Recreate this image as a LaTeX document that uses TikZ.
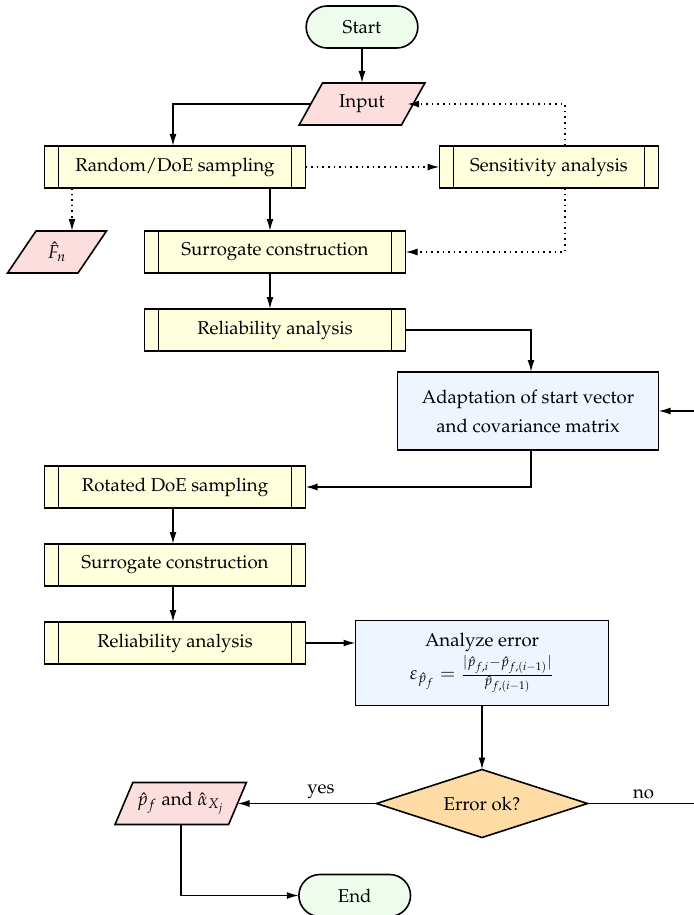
\documentclass[tikz,border=0pt]{standalone}
\usepackage[T1]{fontenc}
\usepackage{amsmath,amssymb}
\usepackage{mathpazo}
\usepackage{xcolor}
\usetikzlibrary{arrows.meta,positioning,calc,shapes.geometric,shapes.misc}
\definecolor{termfill}{HTML}{EEFCEE}
\definecolor{iofill}{HTML}{FDDEDE}
\definecolor{procfill}{HTML}{FFFFDD}
\definecolor{opfill}{HTML}{EEF5FF}
\definecolor{decfill}{HTML}{FFDBA6}
\tikzset{
	terminal/.style={draw, rounded rectangle, fill=termfill, line width=0.8pt, outer sep=0pt,
		minimum width=62.5pt, minimum height=21pt},
	iobox/.style={draw, trapezium, trapezium left angle=65, trapezium right angle=115,
		trapezium stretches=true, fill=iofill, line width=0.8pt, outer sep=0pt,
		inner xsep=1pt, minimum height=21pt},
	procbox/.style={draw, fill=procfill, line width=0.8pt, outer sep=0pt, minimum width=130.5pt,
		minimum height=21pt, inner sep=3pt,
		path picture={
			\draw[line width=0.8pt] ([xshift=7pt]path picture bounding box.north west) -- ([xshift=7pt]path picture bounding box.south west);
			\draw[line width=0.8pt] ([xshift=-7pt]path picture bounding box.north east) -- ([xshift=-7pt]path picture bounding box.south east);
		}},
	opbox/.style={draw, fill=opfill, line width=0.8pt, outer sep=0pt, align=center},
	arrow/.style={-{Latex[length=6pt,width=3.5pt]}, line width=0.8pt},
	dottedarrow/.style={-{Latex[length=6pt,width=3.5pt]}, dotted, line width=0.8pt}
}
\begin{document}
\begin{tikzpicture}[font=\fontsize{9.3pt}{11.5pt}\selectfont]
	\useasboundingbox (0,0) rectangle (347pt,-457.5pt);
	
	%% -- Top: start, input and the first sampling
	\node[terminal] (start) at (181pt,-13.5pt) {Start};
	\node[iobox, minimum width=63pt, below=17.5pt of start] (inp) {Input};
	\node[procbox] (rand) at (87.5pt,-83.5pt) {Random/DoE sampling};
	\node[procbox, minimum width=109.5pt, right=67pt of rand] (sens) {Sensitivity analysis};
	\node[iobox, minimum width=49.5pt, below=21.5pt of rand, xshift=-59pt] (fn) {$\hat{F}_n$};
	\node[procbox, below=21.5pt of rand, xshift=50pt] (surr1) {Surrogate construction};
	\node[procbox, below=18pt of surr1] (rel1) {Reliability analysis};
	
	\draw[arrow] (start) -- (inp);
	\draw[arrow] (inp.west) -| ([xshift=-1pt]rand.north);
	\draw[dottedarrow] (rand) -- (sens);
	\draw[dottedarrow] ([xshift=8pt]sens.north) |- ([xshift=-3pt]inp.east);
	\draw[dottedarrow] ([xshift=8pt]sens.south) |- (surr1.east);
	\draw[dottedarrow] ([xshift=-51.5pt]rand.south) -- ([xshift=-51.5pt]rand.south |- fn.north);
	\draw[arrow] ([xshift=-2.5pt]surr1.north |- rand.south) -- ([xshift=-2.5pt]surr1.north);
	\draw[arrow] ([xshift=-2.5pt]surr1.south) -- ([xshift=-2.5pt]rel1.north);
	
	%% -- Adaptation and the rotated loop
	\node[opbox, minimum width=130.5pt, minimum height=39pt,
	below=10.5pt of rel1, xshift=126.5pt] (adapt)
	{Adaptation of start vector\\[3pt]and covariance matrix};
	\node[procbox, below=57.5pt of rel1, xshift=-50pt] (rot) {Rotated DoE sampling};
	\node[procbox, below=18pt of rot] (surr2) {Surrogate construction};
	\node[procbox, below=18pt of surr2] (rel2) {Reliability analysis};
	\node[opbox, minimum width=126.5pt, minimum height=42.5pt,
	right=25pt of rel2, yshift=-10pt] (err)
	{Analyze error\\[1pt]$\varepsilon_{\hat{p}_f} = \frac{|\hat{p}_{f,i}-\hat{p}_{f,(i-1)}|}{\hat{p}_{f,(i-1)}}$};
	
	\draw[arrow] (rel1.east) -| ([xshift=1.5pt]adapt.north);
	\draw[arrow] ([xshift=1.5pt]adapt.south) |- (rot.east);
	\draw[arrow] ([xshift=-1pt]rot.south) -- ([xshift=-1pt]surr2.north);
	\draw[arrow] ([xshift=-1pt]surr2.south) -- ([xshift=-1pt]rel2.north);
	\draw[arrow] (rel2.east) -- (rel2.east -| err.west);
	
	%% -- Decision and end
	\node[draw, diamond, aspect=3.1, fill=decfill, line width=0.8pt, outer sep=0pt, inner sep=1pt,
	minimum width=105.5pt, minimum height=34pt, below=32pt of err] (ok) {Error ok?};
	\node[iobox, minimum width=66pt, left=69.5pt of ok] (res) {$\hat{p}_f$ and $\hat{\alpha}_{X_j}$};
	\node[terminal, below=25pt of res, xshift=87pt] (stop) {End};
	\coordinate[right=56pt of ok.east] (noturn);
	
	\draw[arrow] (err) -- (ok);
	\draw[arrow] (ok.west) -- node[above, pos=0.4, inner sep=2pt] {yes} (res.east);
	\draw[arrow] (res.south) |- (stop.west);
	\draw[arrow] (ok.east) -- node[above, pos=0.5, inner sep=2pt] {no} (noturn) |- (adapt.east);
	
\end{tikzpicture}
\end{document}
